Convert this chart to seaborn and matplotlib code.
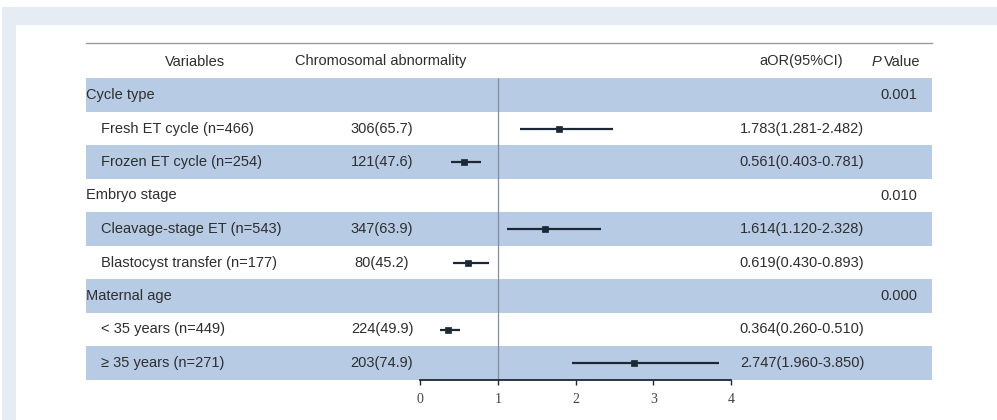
import numpy as np
import pandas as pd
import matplotlib
matplotlib.use("Agg")
import matplotlib.pyplot as plt
import matplotlib.transforms as mtransforms
from matplotlib.patches import Rectangle
import seaborn as sns

# ---------------- data ----------------
labels = ["Cycle type", "Fresh ET cycle (n=466)", "Frozen ET cycle (n=254)",
          "Embryo stage", "Cleavage-stage ET (n=543)", "Blastocyst transfer (n=177)",
          "Maternal age", "< 35 years (n=449)", "\u2265 35 years (n=271)"]
is_group = [True, False, False, True, False, False, True, False, False]
abnormality = ["", "306(65.7)", "121(47.6)", "", "347(63.9)", "80(45.2)",
               "", "224(49.9)", "203(74.9)"]
aor = [np.nan, 1.783, 0.561, np.nan, 1.614, 0.619, np.nan, 0.364, 2.747]
ci_low = [np.nan, 1.281, 0.403, np.nan, 1.120, 0.430, np.nan, 0.260, 1.960]
ci_high = [np.nan, 2.482, 0.781, np.nan, 2.328, 0.893, np.nan, 0.510, 3.850]
p_values = ["0.001", "", "", "0.010", "", "", "0.000", "", ""]
x_ticks = [0, 1, 2, 3, 4]
headers = ["Variables", "Chromosomal abnormality", "aOR(95%CI)"]

df = pd.DataFrame({"label": labels, "group": is_group, "abn": abnormality,
                   "aor": aor, "lo": ci_low, "hi": ci_high, "p": p_values})
df["row"] = np.arange(1, len(df) + 1)
df["ci_txt"] = [f"{a:.3f}({l:.3f}-{h:.3f})" if not np.isnan(a) else ""
                for a, l, h in zip(df.aor, df.lo, df.hi)]

# ---------------- style ----------------
sns.set_theme(style="white")
plt.rcParams["font.family"] = ["Liberation Sans", "DejaVu Sans"]

W, H = 997, 420
fig = plt.figure(figsize=(W / 100, H / 100), dpi=100)
fig.patch.set_facecolor("white")

# background frame (screenshot look)
bg = "#e5ecf4"
fig.add_artist(Rectangle((2 / W, 0), 1, 1 - 7 / H, transform=fig.transFigure,
                         facecolor=bg, edgecolor="none", zorder=-10))
fig.add_artist(Rectangle((16 / W, 0), 1, 1 - 25 / H, transform=fig.transFigure,
                         facecolor="white", edgecolor="none", zorder=-9))

# axes covering the table
left_px, right_px, top_px, bot_px = 86, 932, 43, 380
ax = fig.add_axes([left_px / W, 1 - bot_px / H, (right_px - left_px) / W,
                   (bot_px - top_px) / H])
ax.set_zorder(5)
ax.set_facecolor("none")

# data x-scale: 0 at 420px, 4 at 731px
px_per_unit = (731 - 420) / 4
ax.set_xlim((left_px - 420) / px_per_unit, (right_px - 420) / px_per_unit)
pitch = 33.5
row0 = 61.5
ax.set_ylim((bot_px - row0) / pitch, (top_px - row0) / pitch)

band = "#b8cbe4"
txt = "#2e2e2e"
navy = "#1c2836"
fs = 10.5

for r in df.row:
    if r % 2 == 1:
        ax.axhspan(r - 0.5, r + 0.5, color=band, lw=0, zorder=0.5)

# reference line at 1
ax.vlines(1, 0.5, len(df) + 0.5, color="#7f8fa3", lw=0.9, zorder=1)

# CIs and points
ci = df.dropna(subset=["aor"])
ax.hlines(ci.row, ci.lo, ci.hi, color=navy, lw=1.6, zorder=2)
sns.scatterplot(data=ci, x="aor", y="row", marker="s", s=14, color=navy,
                edgecolor=navy, linewidth=0.5, ax=ax, zorder=3, legend=False)

# text columns
bt = mtransforms.blended_transform_factory(ax.transAxes, ax.transData)
def fx(px):
    return (px - left_px) / (right_px - left_px)

ax.text(fx(195), 0, headers[0], ha="center", va="center", fontsize=fs, color=txt, transform=bt)
ax.text(fx(381), 0, headers[1], ha="center", va="center", fontsize=fs, color=txt, transform=bt)
ax.text(fx(801), 0, headers[2], ha="center", va="center", fontsize=fs, color=txt, transform=bt)
ax.text(fx(881), 0, "P", ha="right", va="center", fontsize=fs, color=txt,
        style="italic", transform=bt)
ax.text(fx(884), 0, "Value", ha="left", va="center", fontsize=fs, color=txt, transform=bt)

for _, d in df.iterrows():
    x0 = fx(86) if d.group else fx(101)
    ax.text(x0, d.row, d.label, ha="left", va="center", fontsize=fs, color=txt, transform=bt)
    if d.abn:
        ax.text(fx(382), d.row, d.abn, ha="center", va="center", fontsize=fs, color=txt, transform=bt)
    if d.ci_txt:
        ax.text(fx(802), d.row, d.ci_txt, ha="center", va="center", fontsize=fs, color=txt, transform=bt)
    if d.p:
        ax.text(fx(899), d.row, d.p, ha="center", va="center", fontsize=fs, color=txt, transform=bt)

# spines / axis
for s in ["left", "right"]:
    ax.spines[s].set_visible(False)
ax.spines["top"].set_color("#9a9a9a")
ax.spines["top"].set_linewidth(1.0)
ax.spines["bottom"].set_color(navy)
ax.spines["bottom"].set_linewidth(1.3)
ax.spines["bottom"].set_bounds(x_ticks[0], x_ticks[-1])
ax.set_xticks(x_ticks)
ax.set_xticklabels([str(t) for t in x_ticks], family=["Liberation Serif", "DejaVu Serif"],
                   fontsize=10, color="#444444")
ax.tick_params(axis="x", bottom=True, length=3.5, width=1.0, color=navy, pad=6)
ax.set_yticks([])
ax.set_xlabel("")
ax.set_ylabel("")

fig.savefig("out.png", dpi=100)
